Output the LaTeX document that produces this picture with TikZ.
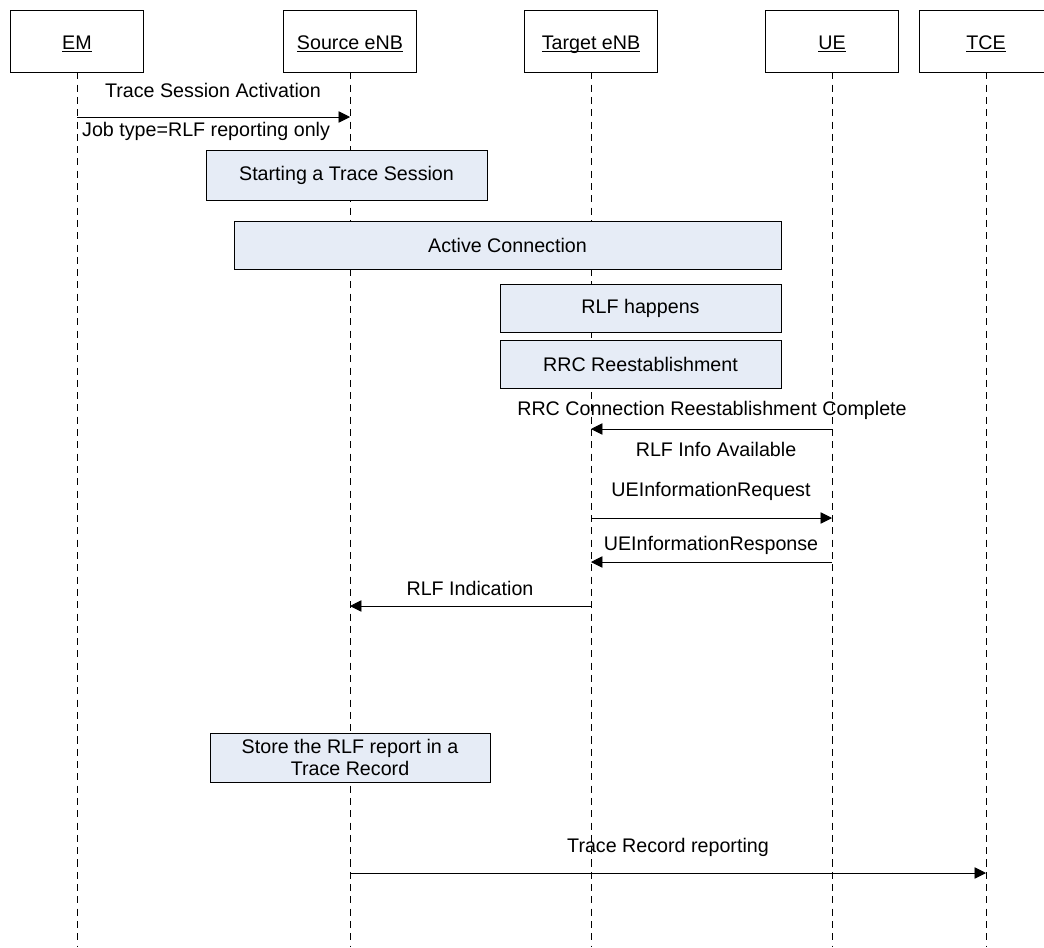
\documentclass[tikz,border=0pt]{standalone}
\usepackage{fontspec}
\setmainfont{Liberation Sans}
\usetikzlibrary{arrows.meta}
\definecolor{boxblue}{HTML}{E6ECF6}
\newcommand{\lifename}[1]{\underline{\smash{#1}}}
\tikzset{
	entity/.style={draw, minimum width=133*0.02cm, minimum height=62*0.02cm, text height=10pt, text depth=0.5pt},
	action/.style={draw, fill=boxblue, align=center},
	msg/.style={-{Triangle[length=6.5pt,width=6.5pt]}},
	life/.style={dash pattern=on 4pt off 3pt}
}
\begin{document}
\begin{tikzpicture}[x=0.02cm, y=-0.02cm, font=\fontsize{11.2}{13}\selectfont]
	\useasboundingbox (0,0) rectangle (1044,947);
	\node[entity] (em) at (77,41) {\lifename{EM}};
	\node[entity] (src) at (350,41) {\lifename{Source eNB}};
	\node[entity] (tgt) at (591,41) {\lifename{Target eNB}};
	\node[entity] (ue) at (832,41) {\lifename{UE}};
	\node[entity] (tce) at (986,41) {\lifename{TCE}};
	\foreach \n in {em, src, tgt, ue, tce}
		\draw[life] (\n.south) -- (\n |- 0,947);

	% trace session activation
	\draw[msg] (em |- 0,117) -- (src |- 0,117);
	\node (act) at (213,90) {Trace Session Activation};
	\node[anchor=west] (job) at (76,131) {Job type=RLF reporting only};

	\node[action, minimum width=281*0.02cm, minimum height=50*0.02cm] (start) at (346.5,175) {Starting a Trace Session};
	\node[action, minimum width=547*0.02cm, minimum height=48*0.02cm] (conn) at (507.5,245) {Active Connection};
	\node[action, minimum width=281*0.02cm, minimum height=48*0.02cm] (rlf) at (640.5,308) {RLF happens};
	\node[action, minimum width=281*0.02cm, minimum height=48*0.02cm] (rrc) at (640.5,364) {RRC Reestablishment};

	% RRC messages
	\draw[msg] (ue |- 0,429) -- (tgt |- 0,429);
	\node (rrcc) at (712,410) {RRC Connection Reestablishment Complete};
	\node (info) at (716,449) {RLF Info Available};
	\draw[msg] (tgt |- 0,518) -- (ue |- 0,518);
	\node (req) at (711,491) {UEInformationRequest};
	\draw[msg] (ue |- 0,562) -- (tgt |- 0,562);
	\node (resp) at (711,545) {UEInformationResponse};
	\draw[msg] (tgt |- 0,606) -- (src |- 0,606);
	\node (ind) at (470,588) {RLF Indication};

	\node[action, minimum width=280*0.02cm, minimum height=49*0.02cm] (store) at (350,757.5) {Store the RLF report in a\\Trace Record};

	% reporting
	\draw[msg] (src |- 0,873) -- (tce |- 0,873);
	\node (rep) at (668,847) {Trace Record reporting};
\end{tikzpicture}
\end{document}
